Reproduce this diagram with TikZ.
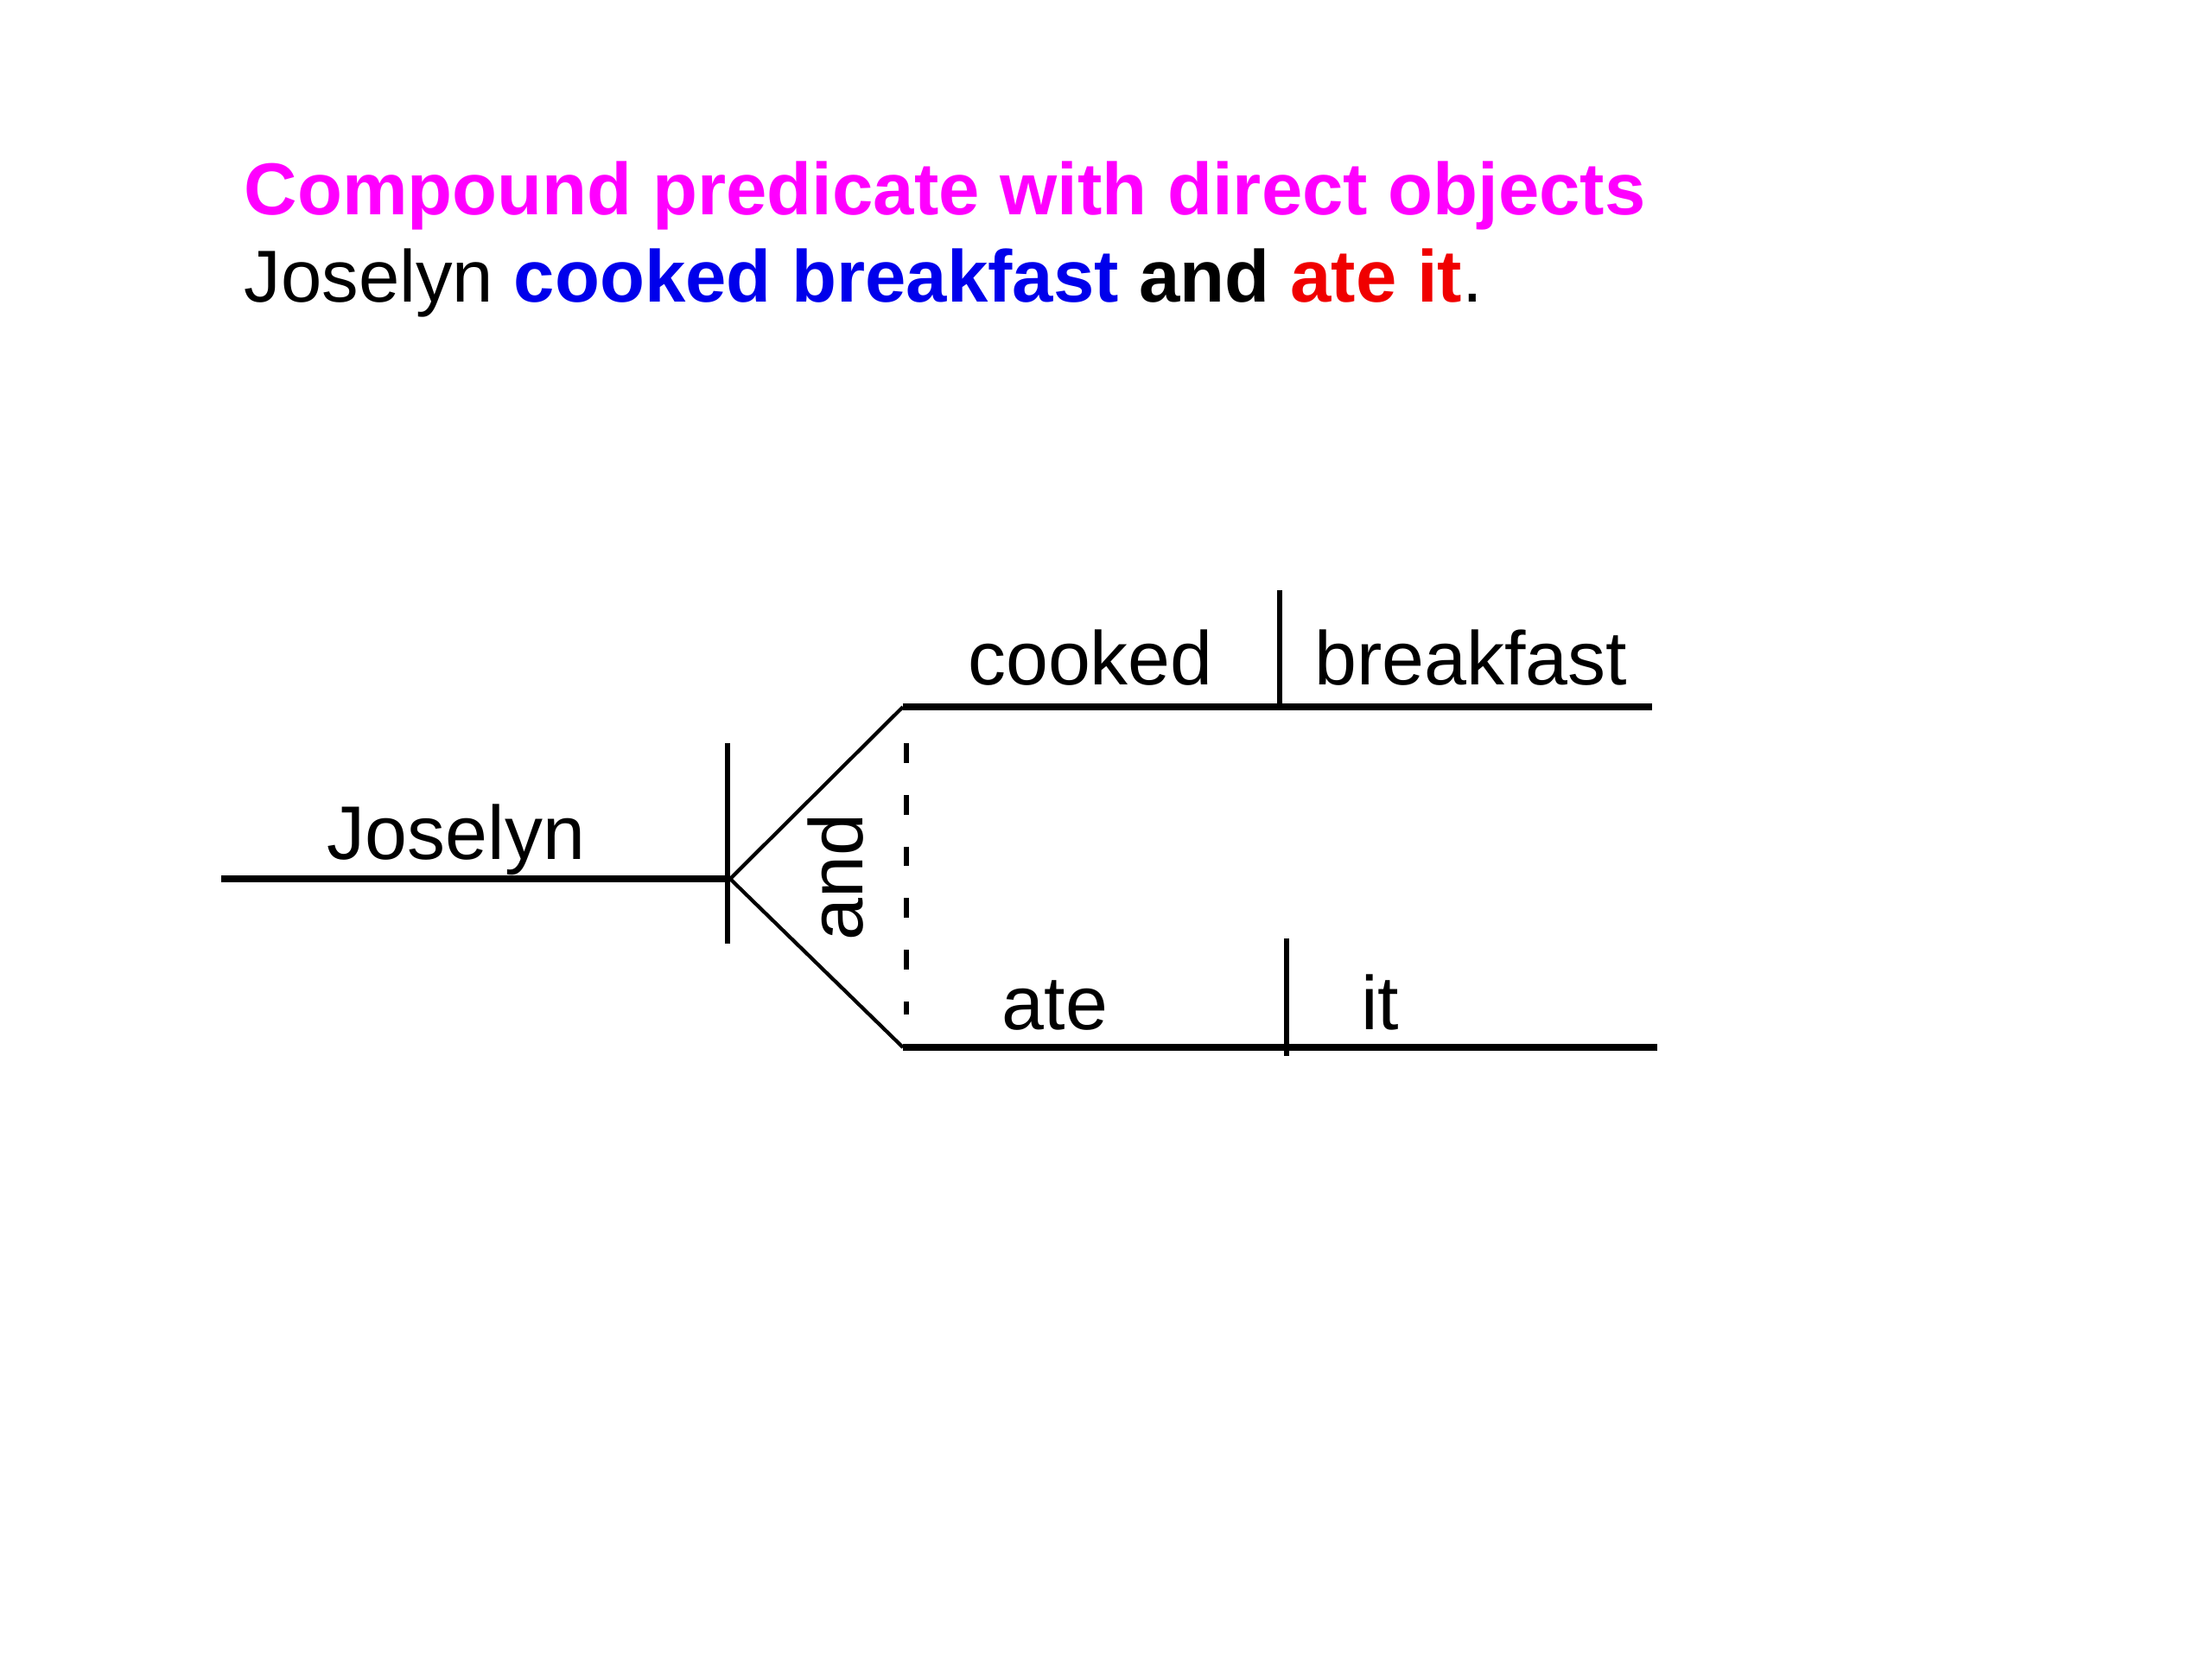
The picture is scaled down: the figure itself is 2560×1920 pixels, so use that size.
\documentclass[tikz,border=0pt]{standalone}
\usepackage{fontspec}
\setmainfont{Liberation Sans}
\usepackage{tikz}
\definecolor{headmagenta}{RGB}{255,0,255}
\definecolor{verbblue}{RGB}{0,0,235}
\definecolor{verbred}{RGB}{240,0,0}
\tikzset{
  wordline/.style={line width=2.2pt},
  divider/.style={line width=1.8pt},
  forkline/.style={line width=1.2pt},
  conjline/.style={line width=1.8pt,dash pattern=on 6.5pt off 10.5pt},
  word/.style={inner sep=0pt,font=\fontsize{25}{30}\selectfont},
  headline/.style={inner sep=0pt,anchor=base west,font=\fontsize{24.2}{29}\selectfont}
}

\begin{document}
\begin{tikzpicture}[x=0.01cm,y=-0.01cm]
\useasboundingbox (0,0) rectangle (2560,1920);
\node[headline,text=headmagenta] (head) at (282,248) {\bfseries Compound predicate with direct objects};
\node[headline] (sentence) at (282,349) {Joselyn \textbf{\color{verbblue}cooked breakfast} \textbf{and} \textbf{\color{verbred}ate it}.};

\coordinate (subjL) at (256,1017);
\coordinate (fork) at (845,1017);
\coordinate (tickT) at (842,860);
\coordinate (tickB) at (842,1092);
\coordinate (topL) at (1045,818);
\coordinate (topR) at (1912,818);
\coordinate (botL) at (1045,1212);
\coordinate (botR) at (1918,1212);
\coordinate (objT) at (1481,683);
\coordinate (objB) at (1481,818);
\coordinate (objtwoT) at (1489,1086);
\coordinate (objtwoB) at (1489,1222);
\coordinate (dashT) at (1049,860);
\coordinate (dashB) at (1049,1174);

\draw[wordline] (subjL) -- (fork);
\draw[divider] (tickT) -- (tickB);
\draw[forkline] (fork) -- (topL);
\draw[forkline] (fork) -- (botL);
\draw[wordline] (topL) -- (topR);
\draw[wordline] (botL) -- (botR);
\draw[divider] (objT) -- (objB);
\draw[divider] (objtwoT) -- (objtwoB);
\draw[conjline] (dashT) -- (dashB);

\node[word,anchor=base] (joselyn) at (528,994) {Joselyn};
\node[word,anchor=base,rotate=90] (and) at (998,1015) {and};
\node[word,anchor=base] (cooked) at (1262,792) {cooked};
\node[word,anchor=base] (breakfast) at (1702,792) {breakfast};
\node[word,anchor=base] (ate) at (1221,1191) {ate};
\node[word,anchor=base] (it) at (1597,1191) {it};
\end{tikzpicture}
\end{document}
